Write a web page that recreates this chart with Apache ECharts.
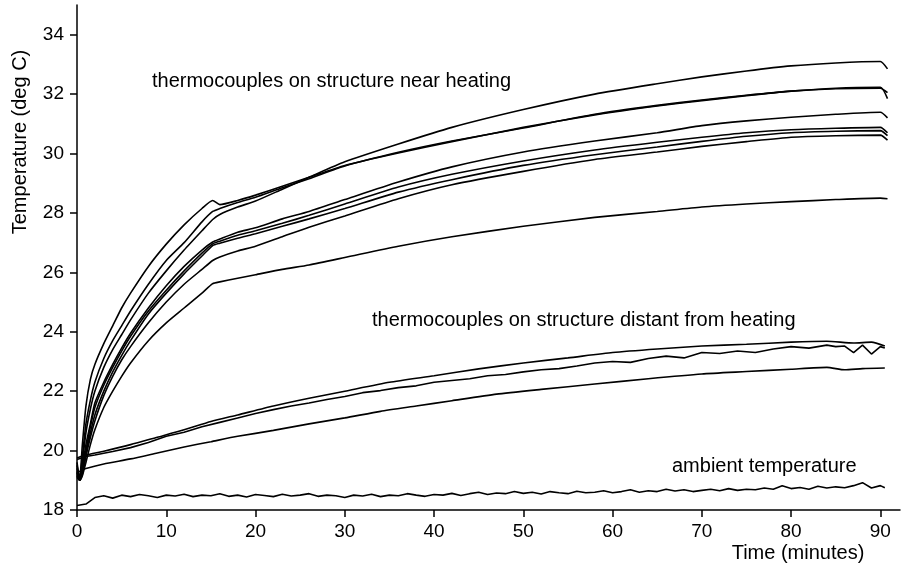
<!DOCTYPE html>
<html>
<head>
<meta charset="utf-8">
<script src="https://cdn.jsdelivr.net/npm/echarts@6/dist/echarts.min.js"></script>
<style>html,body{margin:0;background:#fff}#chart{width:901px;height:569px}</style>
</head>
<body>
<div id="chart"></div>
<script>
var chart = echarts.init(document.getElementById('chart'));

// axis ticks
const xTicks = [0, 10, 20, 30, 40, 50, 60, 70, 80, 90];
const yTicks = [18, 20, 22, 24, 26, 28, 30, 32, 34];

// thermocouples near heating (shared time base, minutes)
const tNear = [0, 0.3, 0.6, 1, 1.5, 2, 3, 4, 5, 6, 8, 10, 12, 14, 15.2, 16, 18, 20, 23, 26, 30, 36, 42, 50, 58, 65, 70, 75, 80, 85, 90, 90.8];
const nearA = [19.6, 19.05, 20.2, 21.5, 22.4, 22.9, 23.6, 24.2, 24.8, 25.3, 26.2, 26.95, 27.6, 28.15, 28.42, 28.28, 28.42, 28.6, 28.9, 29.2, 29.6, 30.02, 30.4, 30.88, 31.3, 31.6, 31.78, 31.95, 32.1, 32.2, 32.23, 31.85];
const nearB = [19.5, 19.0, 19.8, 20.9, 21.7, 22.3, 23.1, 23.7, 24.2, 24.7, 25.6, 26.4, 27.0, 27.7, 28.05, 28.15, 28.35, 28.53, 28.85, 29.15, 29.58, 30.04, 30.42, 30.86, 31.32, 31.62, 31.8, 31.96, 32.1, 32.18, 32.2, 32.05];
const nearC = [19.4, 19.0, 19.6, 20.6, 21.4, 22.0, 22.8, 23.4, 23.9, 24.4, 25.3, 26.05, 26.75, 27.4, 27.78, 27.95, 28.2, 28.4, 28.8, 29.2, 29.72, 30.32, 30.88, 31.48, 32.0, 32.35, 32.58, 32.78, 32.95, 33.05, 33.1, 32.85];
const nearD = [19.3, 19.0, 19.4, 20.2, 20.9, 21.6, 22.3, 22.9, 23.45, 23.95, 24.8, 25.55, 26.2, 26.75, 27.02, 27.12, 27.35, 27.5, 27.8, 28.05, 28.45, 29.04, 29.55, 30.05, 30.42, 30.7, 30.94, 31.1, 31.22, 31.32, 31.39, 31.2];
const nearE = [19.25, 19.0, 19.3, 20.0, 20.8, 21.45, 22.2, 22.8, 23.35, 23.85, 24.7, 25.4, 26.05, 26.65, 26.96, 27.05, 27.25, 27.4, 27.65, 27.92, 28.3, 28.87, 29.3, 29.75, 30.12, 30.38, 30.55, 30.7, 30.8, 30.85, 30.88, 30.7];
const nearF = [19.2, 19.0, 19.25, 19.9, 20.6, 21.2, 22.0, 22.65, 23.2, 23.7, 24.6, 25.3, 25.95, 26.55, 26.9, 26.98, 27.15, 27.3, 27.55, 27.8, 28.15, 28.7, 29.12, 29.6, 29.96, 30.22, 30.41, 30.58, 30.7, 30.75, 30.77, 30.6];
const nearG = [19.15, 19.0, 19.2, 19.8, 20.45, 21.0, 21.85, 22.5, 23.05, 23.5, 24.3, 25.0, 25.6, 26.1, 26.4, 26.52, 26.72, 26.88, 27.2, 27.52, 27.9, 28.48, 28.95, 29.4, 29.8, 30.05, 30.24, 30.4, 30.55, 30.6, 30.62, 30.45];
const nearH = [19.1, 19.0, 19.15, 19.6, 20.2, 20.7, 21.45, 22.0, 22.5, 22.95, 23.7, 24.3, 24.8, 25.3, 25.62, 25.68, 25.8, 25.92, 26.1, 26.25, 26.5, 26.88, 27.2, 27.55, 27.85, 28.05, 28.2, 28.3, 28.38, 28.45, 28.5, 28.48];

// thermocouples distant from heating
const tDistP = [0, 1, 3, 6, 9, 12, 15, 18, 22, 26, 30, 35, 40, 45, 50, 55, 60, 65, 70, 75, 80, 84, 87, 89, 90.5];
const distP = [19.75, 19.85, 19.98, 20.2, 20.45, 20.7, 20.98, 21.2, 21.5, 21.76, 22.0, 22.3, 22.52, 22.75, 22.95, 23.12, 23.3, 23.42, 23.52, 23.58, 23.65, 23.68, 23.62, 23.65, 23.52];
const tDistQ = [0, 1, 2, 4, 6, 8, 10, 12, 14, 16, 18, 20, 22, 24, 26, 28, 30, 32, 34, 36, 38, 40, 42, 44, 46, 48, 50, 52, 54, 56, 58, 60, 62, 64, 66, 68, 70, 72, 74, 76, 78, 80, 82, 84, 85, 86, 87, 88, 89, 90, 90.5];
const distQ = [19.7, 19.8, 19.85, 19.97, 20.1, 20.27, 20.48, 20.62, 20.8, 20.95, 21.1, 21.25, 21.38, 21.5, 21.6, 21.72, 21.82, 21.95, 22.02, 22.12, 22.18, 22.3, 22.36, 22.42, 22.52, 22.56, 22.65, 22.72, 22.76, 22.85, 22.95, 23.0, 22.97, 23.1, 23.18, 23.12, 23.3, 23.27, 23.35, 23.3, 23.42, 23.5, 23.45, 23.55, 23.5, 23.52, 23.3, 23.55, 23.25, 23.5, 23.45];
const tDistR = [0, 0.6, 1, 3, 6, 9, 12, 15, 18, 22, 26, 30, 34, 38, 42, 47, 52, 58, 64, 70, 75, 80, 84, 86, 88, 90.5];
const distR = [19.25, 19.35, 19.4, 19.55, 19.72, 19.92, 20.12, 20.3, 20.48, 20.68, 20.9, 21.1, 21.32, 21.5, 21.68, 21.9, 22.06, 22.24, 22.42, 22.58, 22.66, 22.74, 22.8, 22.72, 22.76, 22.78];

// ambient temperature, one reading a minute
const tAmb = [0, 1, 2, 3, 4, 5, 6, 7, 8, 9, 10, 11, 12, 13, 14, 15, 16, 17, 18, 19, 20, 21, 22, 23, 24, 25, 26, 27, 28, 29, 30, 31, 32, 33, 34, 35, 36, 37, 38, 39, 40, 41, 42, 43, 44, 45, 46, 47, 48, 49, 50, 51, 52, 53, 54, 55, 56, 57, 58, 59, 60, 61, 62, 63, 64, 65, 66, 67, 68, 69, 70, 71, 72, 73, 74, 75, 76, 77, 78, 79, 80, 81, 82, 83, 84, 85, 86, 87, 88, 89, 90, 90.5];
const ambient = [18.15, 18.2, 18.42, 18.48, 18.4, 18.5, 18.45, 18.52, 18.48, 18.42,
  18.5, 18.47, 18.53, 18.45, 18.5, 18.48, 18.55, 18.46, 18.5, 18.44,
  18.52, 18.49, 18.45, 18.53, 18.47, 18.5, 18.55, 18.46, 18.5, 18.48,
  18.42, 18.5, 18.47, 18.53, 18.45, 18.5, 18.48, 18.55, 18.5, 18.46,
  18.52, 18.5, 18.56, 18.49, 18.55, 18.6, 18.52, 18.57, 18.55, 18.62,
  18.56, 18.6, 18.54, 18.62, 18.58, 18.55, 18.63, 18.58, 18.6, 18.65,
  18.58, 18.62, 18.68, 18.6, 18.65, 18.62, 18.7, 18.64, 18.68, 18.62,
  18.66, 18.7, 18.65, 18.72, 18.66, 18.7, 18.68, 18.74, 18.7, 18.82,
  18.72, 18.76, 18.7, 18.8, 18.74, 18.78, 18.75, 18.82, 18.92, 18.74,
  18.82, 18.75];

var FONT = '"Liberation Sans", Arial, Helvetica, sans-serif';

function pairs(ts, vs) {
  return ts.map(function (t, i) { return [t, vs[i]]; });
}

function line(name, ts, vs, smooth) {
  return {
    name: name,
    type: 'line',
    data: pairs(ts, vs),
    showSymbol: false,
    smooth: smooth,
    lineStyle: { color: '#000', width: 1.6 },
    silent: true
  };
}

var series = [
  line('near A', tNear, nearA, 0.2),
  line('near B', tNear, nearB, 0.2),
  line('near C', tNear, nearC, 0.2),
  line('near D', tNear, nearD, 0.2),
  line('near E', tNear, nearE, 0.2),
  line('near F', tNear, nearF, 0.2),
  line('near G', tNear, nearG, 0.2),
  line('near H', tNear, nearH, 0.2),
  line('distant P', tDistP, distP, 0.2),
  line('distant Q', tDistQ, distQ, false),
  line('distant R', tDistR, distR, 0.2),
  line('ambient', tAmb, ambient, false)
];

var axisCommon = {
  axisLine: { show: true, onZero: false, lineStyle: { color: '#000', width: 1.5 } },
  splitLine: { show: false }
};

var option = {
  animation: false,
  backgroundColor: '#fff',
  grid: { left: 77, right: 1, top: 5, bottom: 59 },
  xAxis: Object.assign({
    type: 'value',
    min: 0,
    max: 92.2,
    axisTick: { show: true, length: 7, customValues: xTicks, lineStyle: { color: '#000', width: 1.5 } },
    axisLabel: { customValues: xTicks, color: '#000', fontSize: 19, fontFamily: FONT, margin: 12 }
  }, axisCommon),
  yAxis: Object.assign({
    type: 'value',
    min: 18,
    max: 35,
    axisTick: { show: true, length: 7, customValues: yTicks, lineStyle: { color: '#000', width: 1.5 } },
    axisLabel: { customValues: yTicks, color: '#000', fontSize: 19, fontFamily: FONT, margin: 13 }
  }, axisCommon),
  graphic: [
    { type: 'text', x: 20, y: 142, rotation: Math.PI / 2,
      style: { text: 'Temperature (deg C)', fontSize: 20, fontFamily: FONT, fill: '#000', align: 'center', verticalAlign: 'middle' } },
    { type: 'text', x: 798, y: 553,
      style: { text: 'Time (minutes)', fontSize: 20, fontFamily: FONT, fill: '#000', align: 'center', verticalAlign: 'middle' } },
    { type: 'text', x: 152, y: 81,
      style: { text: 'thermocouples on structure near heating', fontSize: 20, fontFamily: FONT, fill: '#000', align: 'left', verticalAlign: 'middle' } },
    { type: 'text', x: 372, y: 320,
      style: { text: 'thermocouples on structure distant from heating', fontSize: 20, fontFamily: FONT, fill: '#000', align: 'left', verticalAlign: 'middle' } },
    { type: 'text', x: 672, y: 466,
      style: { text: 'ambient temperature', fontSize: 20, fontFamily: FONT, fill: '#000', align: 'left', verticalAlign: 'middle' } }
  ],
  series: series
};

chart.setOption(option);
</script>
</body>
</html>
